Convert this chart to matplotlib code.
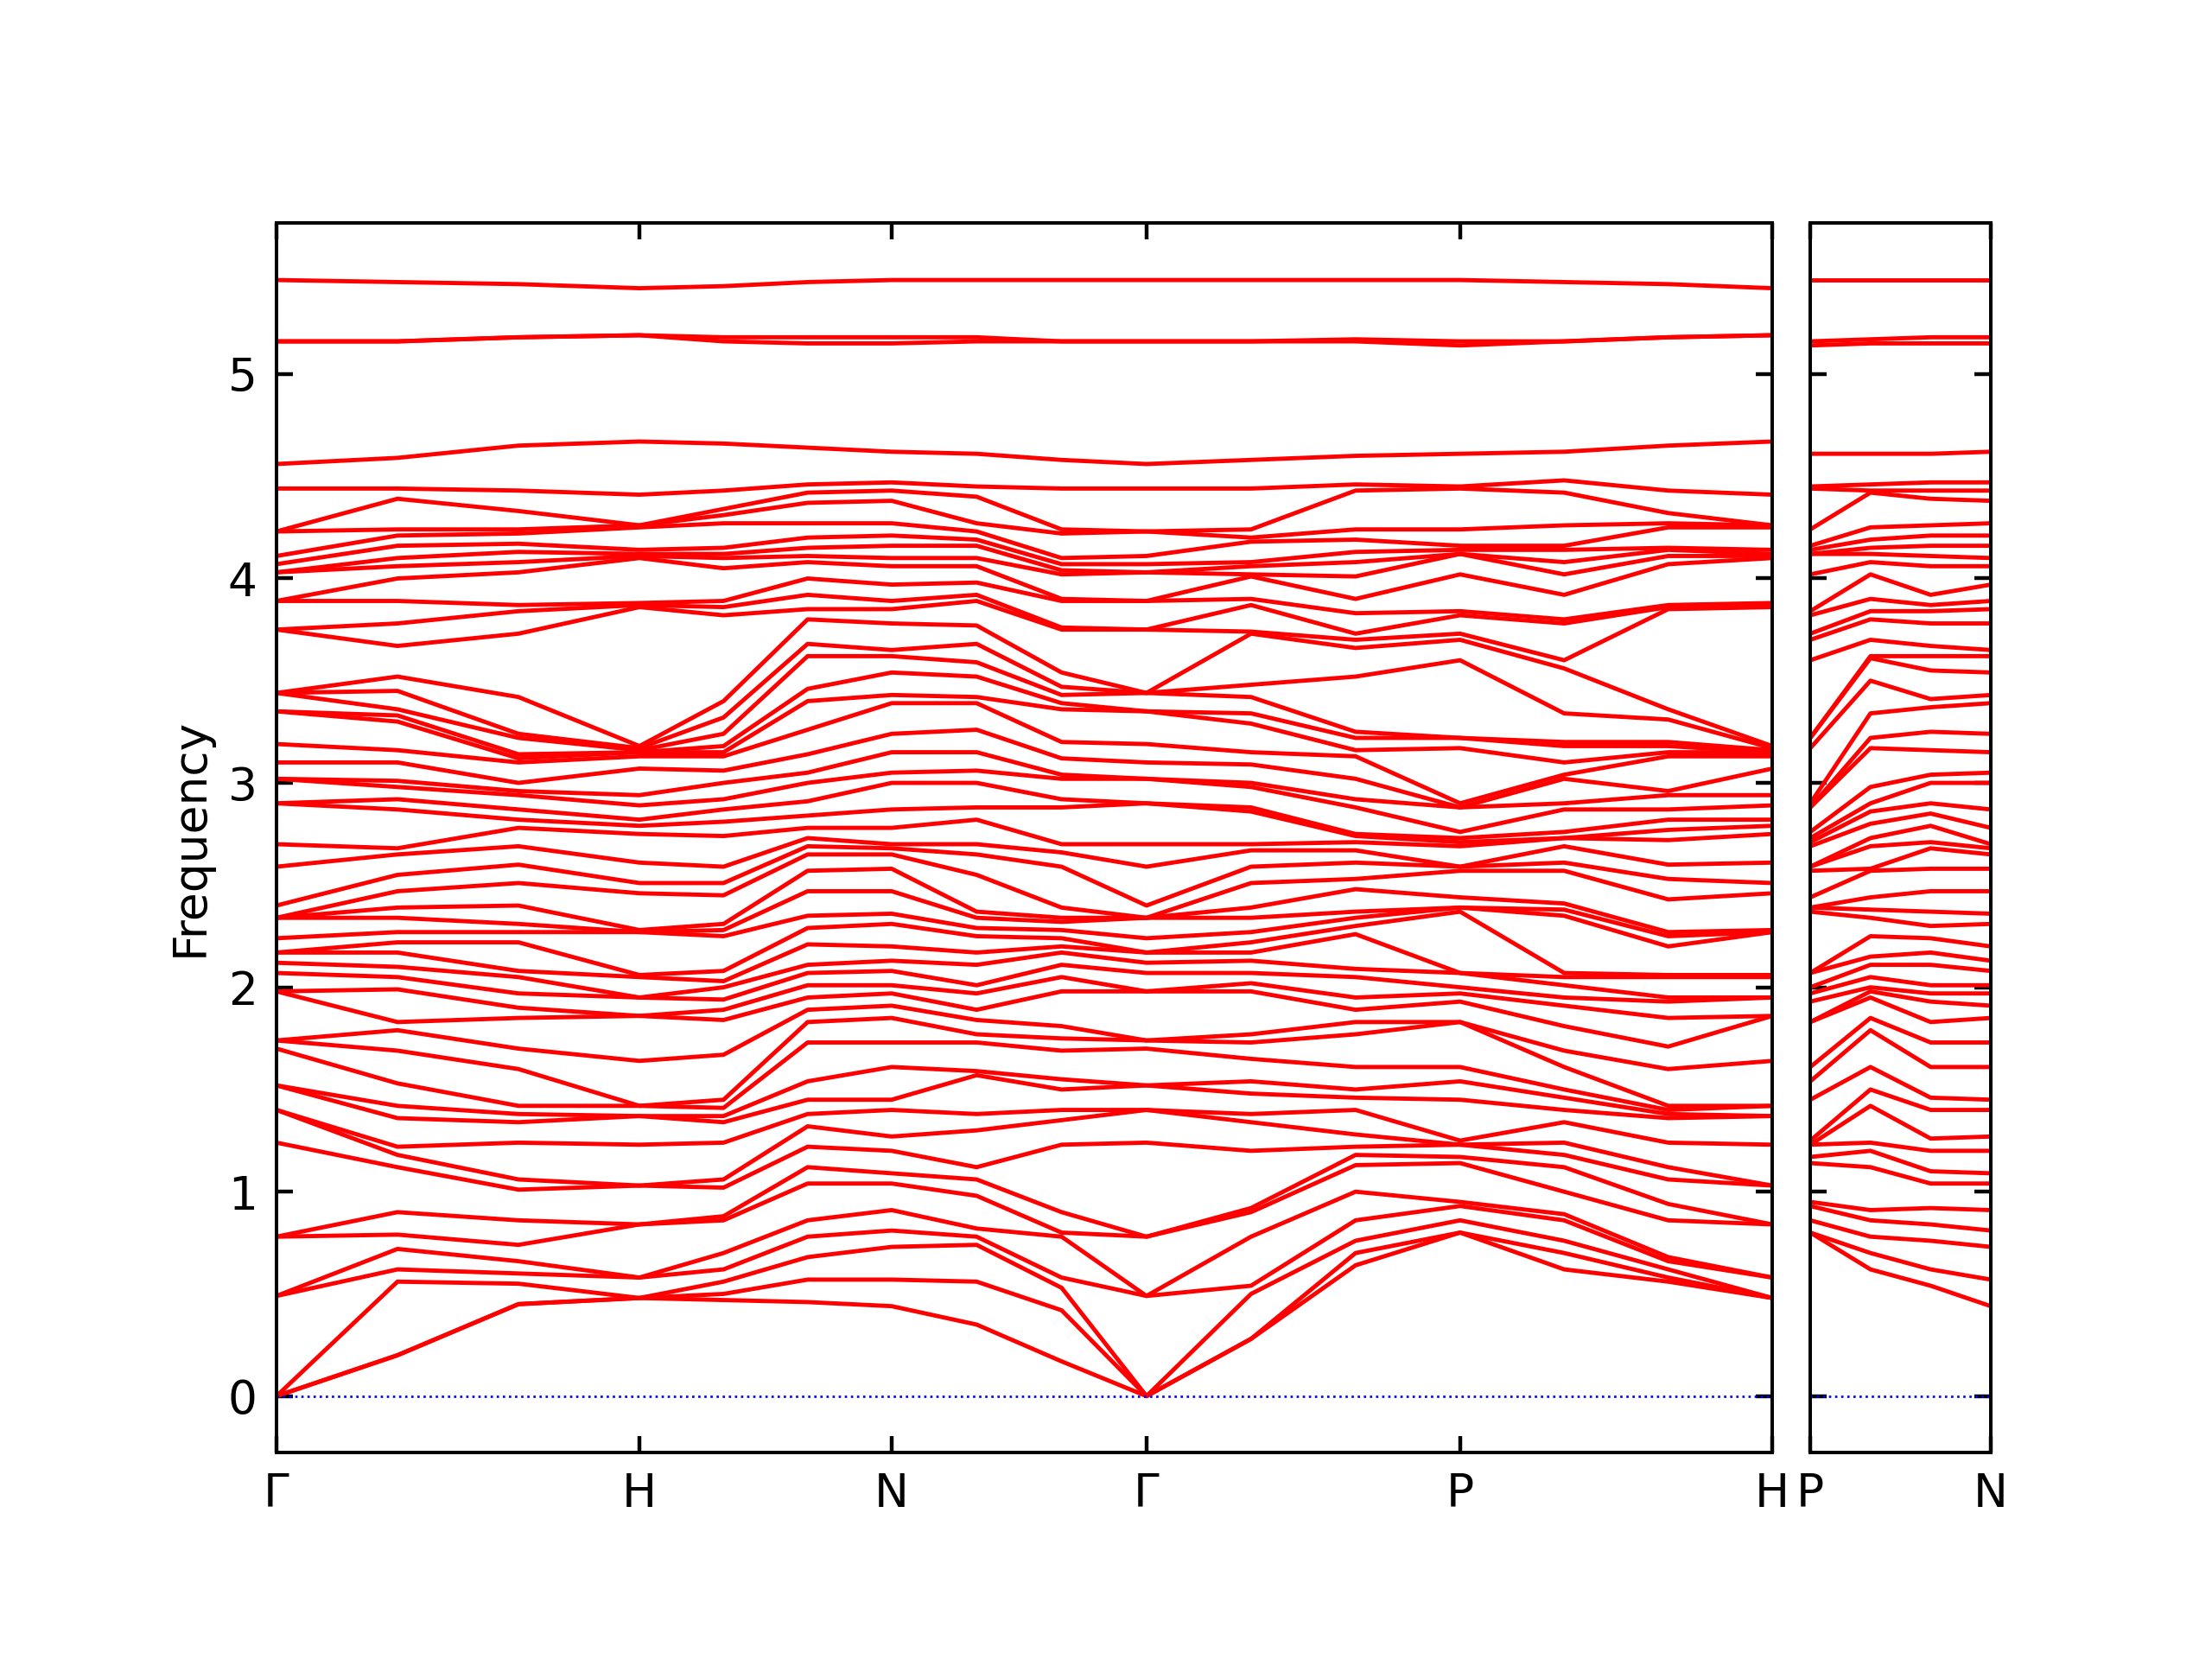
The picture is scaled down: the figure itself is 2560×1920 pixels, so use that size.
"""
Phonon band structure along G-H-N-G-P-H | P-N.
Frequencies read off the reference plot: 54 branches, sampled at each
high-symmetry point and at 1/3 and 2/3 of every path segment.
Branches are joined in sorted order at each sample.
"""

import numpy as np
import matplotlib
matplotlib.use("Agg")
import matplotlib.pyplot as plt

main_labels = ["Γ", "H", "N", "Γ", "P", "H"]
main_seg_len = [1.0, 0.695, 0.702, 0.864, 0.860]
side_labels = ["P", "N"]
side_seg_len = [0.5]

# frequencies at the high-symmetry points
freq_G = [0, 0, 0, 0.49, 0.49, 0.78, 0.78, 1.24, 1.40, 1.40, 1.52, 1.52, 1.70, 1.74, 1.74,
          1.98, 1.98, 2.07, 2.12, 2.17, 2.17, 2.24, 2.34, 2.34, 2.34, 2.40, 2.59, 2.70,
          2.90, 2.90, 3.02, 3.02, 3.10, 3.19, 3.35, 3.35, 3.44, 3.44, 3.44, 3.75, 3.75,
          3.89, 3.89, 4.03, 4.03, 4.07, 4.11, 4.23, 4.23, 4.44, 4.56, 5.16, 5.16, 5.46]
freq_H = [0.48, 0.48, 0.48, 0.58, 0.58, 0.84, 0.84, 1.03, 1.03, 1.23, 1.37, 1.37, 1.42,
          1.42, 1.64, 1.86, 1.86, 1.95, 1.95, 2.05, 2.06, 2.27, 2.27, 2.28, 2.46, 2.51,
          2.61, 2.75, 2.79, 2.82, 2.89, 2.94, 3.07, 3.13, 3.15, 3.15, 3.16, 3.17, 3.18,
          3.86, 3.87, 3.88, 4.10, 4.11, 4.12, 4.14, 4.25, 4.26, 4.26, 4.41, 4.67, 5.19,
          5.19, 5.42]
freq_N = [0.44, 0.57, 0.73, 0.81, 0.91, 1.04, 1.09, 1.20, 1.27, 1.40, 1.45, 1.61, 1.73,
          1.85, 1.91, 1.97, 2.01, 2.08, 2.13, 2.20, 2.31, 2.36, 2.47, 2.58, 2.65, 2.68,
          2.70, 2.78, 2.87, 3.00, 3.05, 3.15, 3.24, 3.39, 3.43, 3.54, 3.62, 3.65, 3.78,
          3.85, 3.89, 3.97, 4.06, 4.10, 4.16, 4.21, 4.27, 4.38, 4.43, 4.47, 4.62, 5.15,
          5.18, 5.46]
freq_P = [0.80, 0.80, 0.86, 0.93, 0.95, 1.14, 1.17, 1.23, 1.23, 1.25, 1.45, 1.54, 1.61,
          1.83, 1.83, 1.93, 1.97, 2.00, 2.07, 2.07, 2.37, 2.39, 2.39, 2.44, 2.57, 2.59,
          2.59, 2.69, 2.71, 2.73, 2.76, 2.88, 2.88, 2.90, 3.17, 3.22, 3.22, 3.60, 3.70,
          3.73, 3.82, 3.84, 4.02, 4.12, 4.12, 4.14, 4.16, 4.24, 4.44, 4.45, 4.61, 5.14,
          5.16, 5.46]

# frequencies at 1/3 and 2/3 along each segment
freq_GH1 = [0.20, 0.20, 0.56, 0.62, 0.72, 0.79, 0.90, 1.12, 1.18, 1.22, 1.36, 1.42, 1.53,
            1.69, 1.79, 1.83, 1.99, 2.05, 2.10, 2.17, 2.22, 2.27, 2.34, 2.39, 2.47, 2.55,
            2.65, 2.68, 2.87, 2.92, 2.98, 3.01, 3.10, 3.16, 3.30, 3.33, 3.36, 3.45, 3.52,
            3.67, 3.78, 3.89, 4.00, 4.06, 4.10, 4.16, 4.21, 4.24, 4.39, 4.44, 4.59, 5.16,
            5.16, 5.45]
freq_GH2 = [0.45, 0.45, 0.55, 0.60, 0.66, 0.74, 0.86, 1.01, 1.06, 1.24, 1.34, 1.38, 1.42,
            1.60, 1.70, 1.85, 1.90, 1.97, 2.05, 2.08, 2.22, 2.27, 2.31, 2.40, 2.51, 2.60,
            2.69, 2.78, 2.82, 2.87, 2.94, 2.96, 3.00, 3.10, 3.12, 3.14, 3.22, 3.24, 3.42,
            3.73, 3.84, 3.87, 4.03, 4.08, 4.13, 4.17, 4.22, 4.24, 4.33, 4.43, 4.65, 5.18,
            5.18, 5.44]
freq_HN1 = [0.47, 0.50, 0.56, 0.62, 0.70, 0.86, 0.88, 1.02, 1.06, 1.24, 1.34, 1.37, 1.41,
            1.45, 1.67, 1.84, 1.89, 1.94, 2.00, 2.03, 2.08, 2.25, 2.28, 2.31, 2.45, 2.51,
            2.59, 2.74, 2.81, 2.87, 2.92, 3.00, 3.06, 3.13, 3.15, 3.18, 3.24, 3.32, 3.40,
            3.82, 3.86, 3.89, 4.05, 4.10, 4.12, 4.15, 4.27, 4.31, 4.34, 4.43, 4.66, 5.16,
            5.18, 5.43]
freq_HN2 = [0.46, 0.57, 0.68, 0.78, 0.86, 1.04, 1.12, 1.22, 1.32, 1.38, 1.45, 1.54, 1.73,
            1.83, 1.89, 1.95, 2.01, 2.07, 2.11, 2.21, 2.29, 2.35, 2.47, 2.57, 2.65, 2.69,
            2.73, 2.78, 2.84, 2.91, 3.00, 3.05, 3.14, 3.26, 3.40, 3.46, 3.62, 3.68, 3.80,
            3.85, 3.92, 4.00, 4.08, 4.11, 4.15, 4.20, 4.27, 4.37, 4.42, 4.46, 4.64, 5.15,
            5.18, 5.45]
freq_NG1 = [0.35, 0.56, 0.74, 0.78, 0.82, 0.98, 1.06, 1.12, 1.30, 1.38, 1.57, 1.59, 1.73,
            1.77, 1.84, 1.89, 1.97, 2.01, 2.11, 2.17, 2.25, 2.29, 2.34, 2.37, 2.55, 2.65,
            2.70, 2.82, 2.88, 3.00, 3.06, 3.15, 3.26, 3.39, 3.42, 3.52, 3.59, 3.68, 3.77,
            3.89, 3.92, 3.98, 4.06, 4.10, 4.16, 4.19, 4.23, 4.27, 4.40, 4.45, 4.61, 5.16,
            5.18, 5.46]
freq_NG2 = [0.17, 0.42, 0.53, 0.58, 0.78, 0.80, 0.90, 1.23, 1.35, 1.40, 1.50, 1.55, 1.69,
            1.75, 1.81, 1.98, 2.05, 2.11, 2.17, 2.20, 2.24, 2.28, 2.32, 2.34, 2.39, 2.59,
            2.66, 2.70, 2.88, 2.92, 3.02, 3.04, 3.12, 3.20, 3.36, 3.39, 3.43, 3.47, 3.54,
            3.75, 3.76, 3.89, 3.90, 4.02, 4.04, 4.07, 4.10, 4.22, 4.24, 4.44, 4.58, 5.16,
            5.16, 5.46]
freq_GP1 = [0.28, 0.28, 0.50, 0.54, 0.78, 0.90, 0.92, 1.20, 1.34, 1.38, 1.48, 1.54, 1.65,
            1.73, 1.77, 1.98, 2.02, 2.07, 2.13, 2.17, 2.22, 2.27, 2.34, 2.39, 2.51, 2.59,
            2.67, 2.70, 2.86, 2.88, 2.98, 3.00, 3.09, 3.15, 3.29, 3.34, 3.42, 3.48, 3.73,
            3.74, 3.87, 3.90, 4.01, 4.02, 4.06, 4.08, 4.18, 4.20, 4.24, 4.44, 4.58, 5.16,
            5.16, 5.46]
freq_GP2 = [0.64, 0.70, 0.76, 0.86, 1.00, 1.13, 1.18, 1.22, 1.28, 1.40, 1.46, 1.50, 1.61,
            1.77, 1.83, 1.89, 1.95, 2.05, 2.09, 2.26, 2.30, 2.34, 2.37, 2.48, 2.53, 2.61,
            2.67, 2.71, 2.74, 2.75, 2.88, 2.92, 3.02, 3.13, 3.16, 3.22, 3.25, 3.52, 3.66,
            3.70, 3.73, 3.83, 3.90, 4.01, 4.08, 4.13, 4.19, 4.24, 4.43, 4.46, 4.60, 5.16,
            5.17, 5.46]
freq_PH1 = [0.62, 0.70, 0.76, 0.86, 0.89, 1.00, 1.12, 1.18, 1.24, 1.34, 1.40, 1.46, 1.50,
            1.61, 1.69, 1.81, 1.91, 1.95, 2.01, 2.05, 2.07, 2.35, 2.38, 2.41, 2.57, 2.61,
            2.69, 2.73, 2.73, 2.76, 2.87, 2.90, 3.02, 3.04, 3.10, 3.18, 3.20, 3.34, 3.56,
            3.60, 3.78, 3.80, 3.92, 4.02, 4.08, 4.14, 4.16, 4.26, 4.42, 4.48, 4.62, 5.16,
            5.16, 5.45]
freq_PH2 = [0.56, 0.58, 0.62, 0.66, 0.68, 0.86, 0.94, 1.06, 1.12, 1.24, 1.36, 1.38, 1.40,
            1.42, 1.60, 1.71, 1.85, 1.93, 1.95, 2.05, 2.06, 2.20, 2.25, 2.27, 2.43, 2.53,
            2.60, 2.72, 2.77, 2.82, 2.87, 2.94, 2.96, 3.13, 3.15, 3.18, 3.20, 3.31, 3.36,
            3.85, 3.86, 3.87, 4.07, 4.11, 4.14, 4.15, 4.25, 4.27, 4.32, 4.43, 4.65, 5.18,
            5.18, 5.44]
freq_PN1 = [0.62, 0.70, 0.78, 0.86, 0.91, 1.12, 1.20, 1.24, 1.42, 1.50, 1.61, 1.79, 1.85,
            1.95, 1.98, 2.00, 2.05, 2.11, 2.15, 2.25, 2.34, 2.38, 2.44, 2.57, 2.58, 2.69,
            2.73, 2.80, 2.86, 2.90, 2.98, 3.17, 3.22, 3.34, 3.50, 3.61, 3.62, 3.70, 3.80,
            3.84, 3.90, 4.02, 4.08, 4.12, 4.15, 4.19, 4.25, 4.42, 4.43, 4.46, 4.61, 5.15,
            5.17, 5.46]
freq_PN2 = [0.54, 0.62, 0.76, 0.84, 0.92, 1.04, 1.10, 1.20, 1.26, 1.40, 1.46, 1.61, 1.73,
            1.83, 1.93, 1.97, 2.01, 2.11, 2.17, 2.24, 2.30, 2.37, 2.47, 2.58, 2.68, 2.71,
            2.79, 2.85, 2.90, 3.00, 3.04, 3.16, 3.25, 3.37, 3.41, 3.55, 3.62, 3.67, 3.78,
            3.84, 3.87, 3.92, 4.06, 4.11, 4.16, 4.21, 4.26, 4.39, 4.43, 4.47, 4.61, 5.15,
            5.18, 5.46]

# sample order along each panel (node, 1/3, 2/3, next node, ...)
main_columns = [freq_G, freq_GH1, freq_GH2, freq_H, freq_HN1, freq_HN2, freq_N,
                freq_NG1, freq_NG2, freq_G, freq_GP1, freq_GP2, freq_P, freq_PH1,
                freq_PH2, freq_H]
side_columns = [freq_P, freq_PN1, freq_PN2, freq_N]
sample_frac = [0.0, 1 / 3, 2 / 3]


def path_positions(seg_len):
    nodes = np.concatenate([[0.0], np.cumsum(seg_len)])
    q = [nodes[i] + f * seg_len[i] for i in range(len(seg_len)) for f in sample_frac]
    q.append(nodes[-1])
    return nodes, np.array(q)


def draw_panel(ax, seg_len, columns, labels, show_ylabels):
    nodes, q = path_positions(seg_len)
    bands = np.sort(np.array(columns, dtype=float), axis=1)
    ax.plot(q, bands, color="#ff0000", lw=1.1, solid_joinstyle="round")
    ax.axhline(0, color="#0000ff", ls=":", lw=0.6)
    ax.set_xlim(nodes[0], nodes[-1])
    ax.set_ylim(-0.274, 5.74)
    ax.set_xticks(nodes)
    ax.set_xticklabels(labels)
    ax.set_yticks([0, 1, 2, 3, 4, 5])
    ax.tick_params(direction="in", top=True, right=True, length=4.3, width=1.0,
                   labelsize=12, pad=5)
    if not show_ylabels:
        ax.set_yticklabels([])
    for s in ax.spines.values():
        s.set_linewidth(0.9)


def main():
    for col in main_columns + side_columns:
        assert len(col) == 54

    fig = plt.figure(figsize=(8, 6), dpi=320)
    ax1 = fig.add_axes([0.125, 0.1247, 0.6762, 0.741])
    ax2 = fig.add_axes([0.8184, 0.1247, 0.0816, 0.741])

    draw_panel(ax1, main_seg_len, main_columns, main_labels, True)
    draw_panel(ax2, side_seg_len, side_columns, side_labels, False)
    ax1.set_ylabel("Frequency", fontsize=12)

    fig.savefig("out.png", dpi=320)
    plt.close(fig)


if __name__ == "__main__":
    main()
